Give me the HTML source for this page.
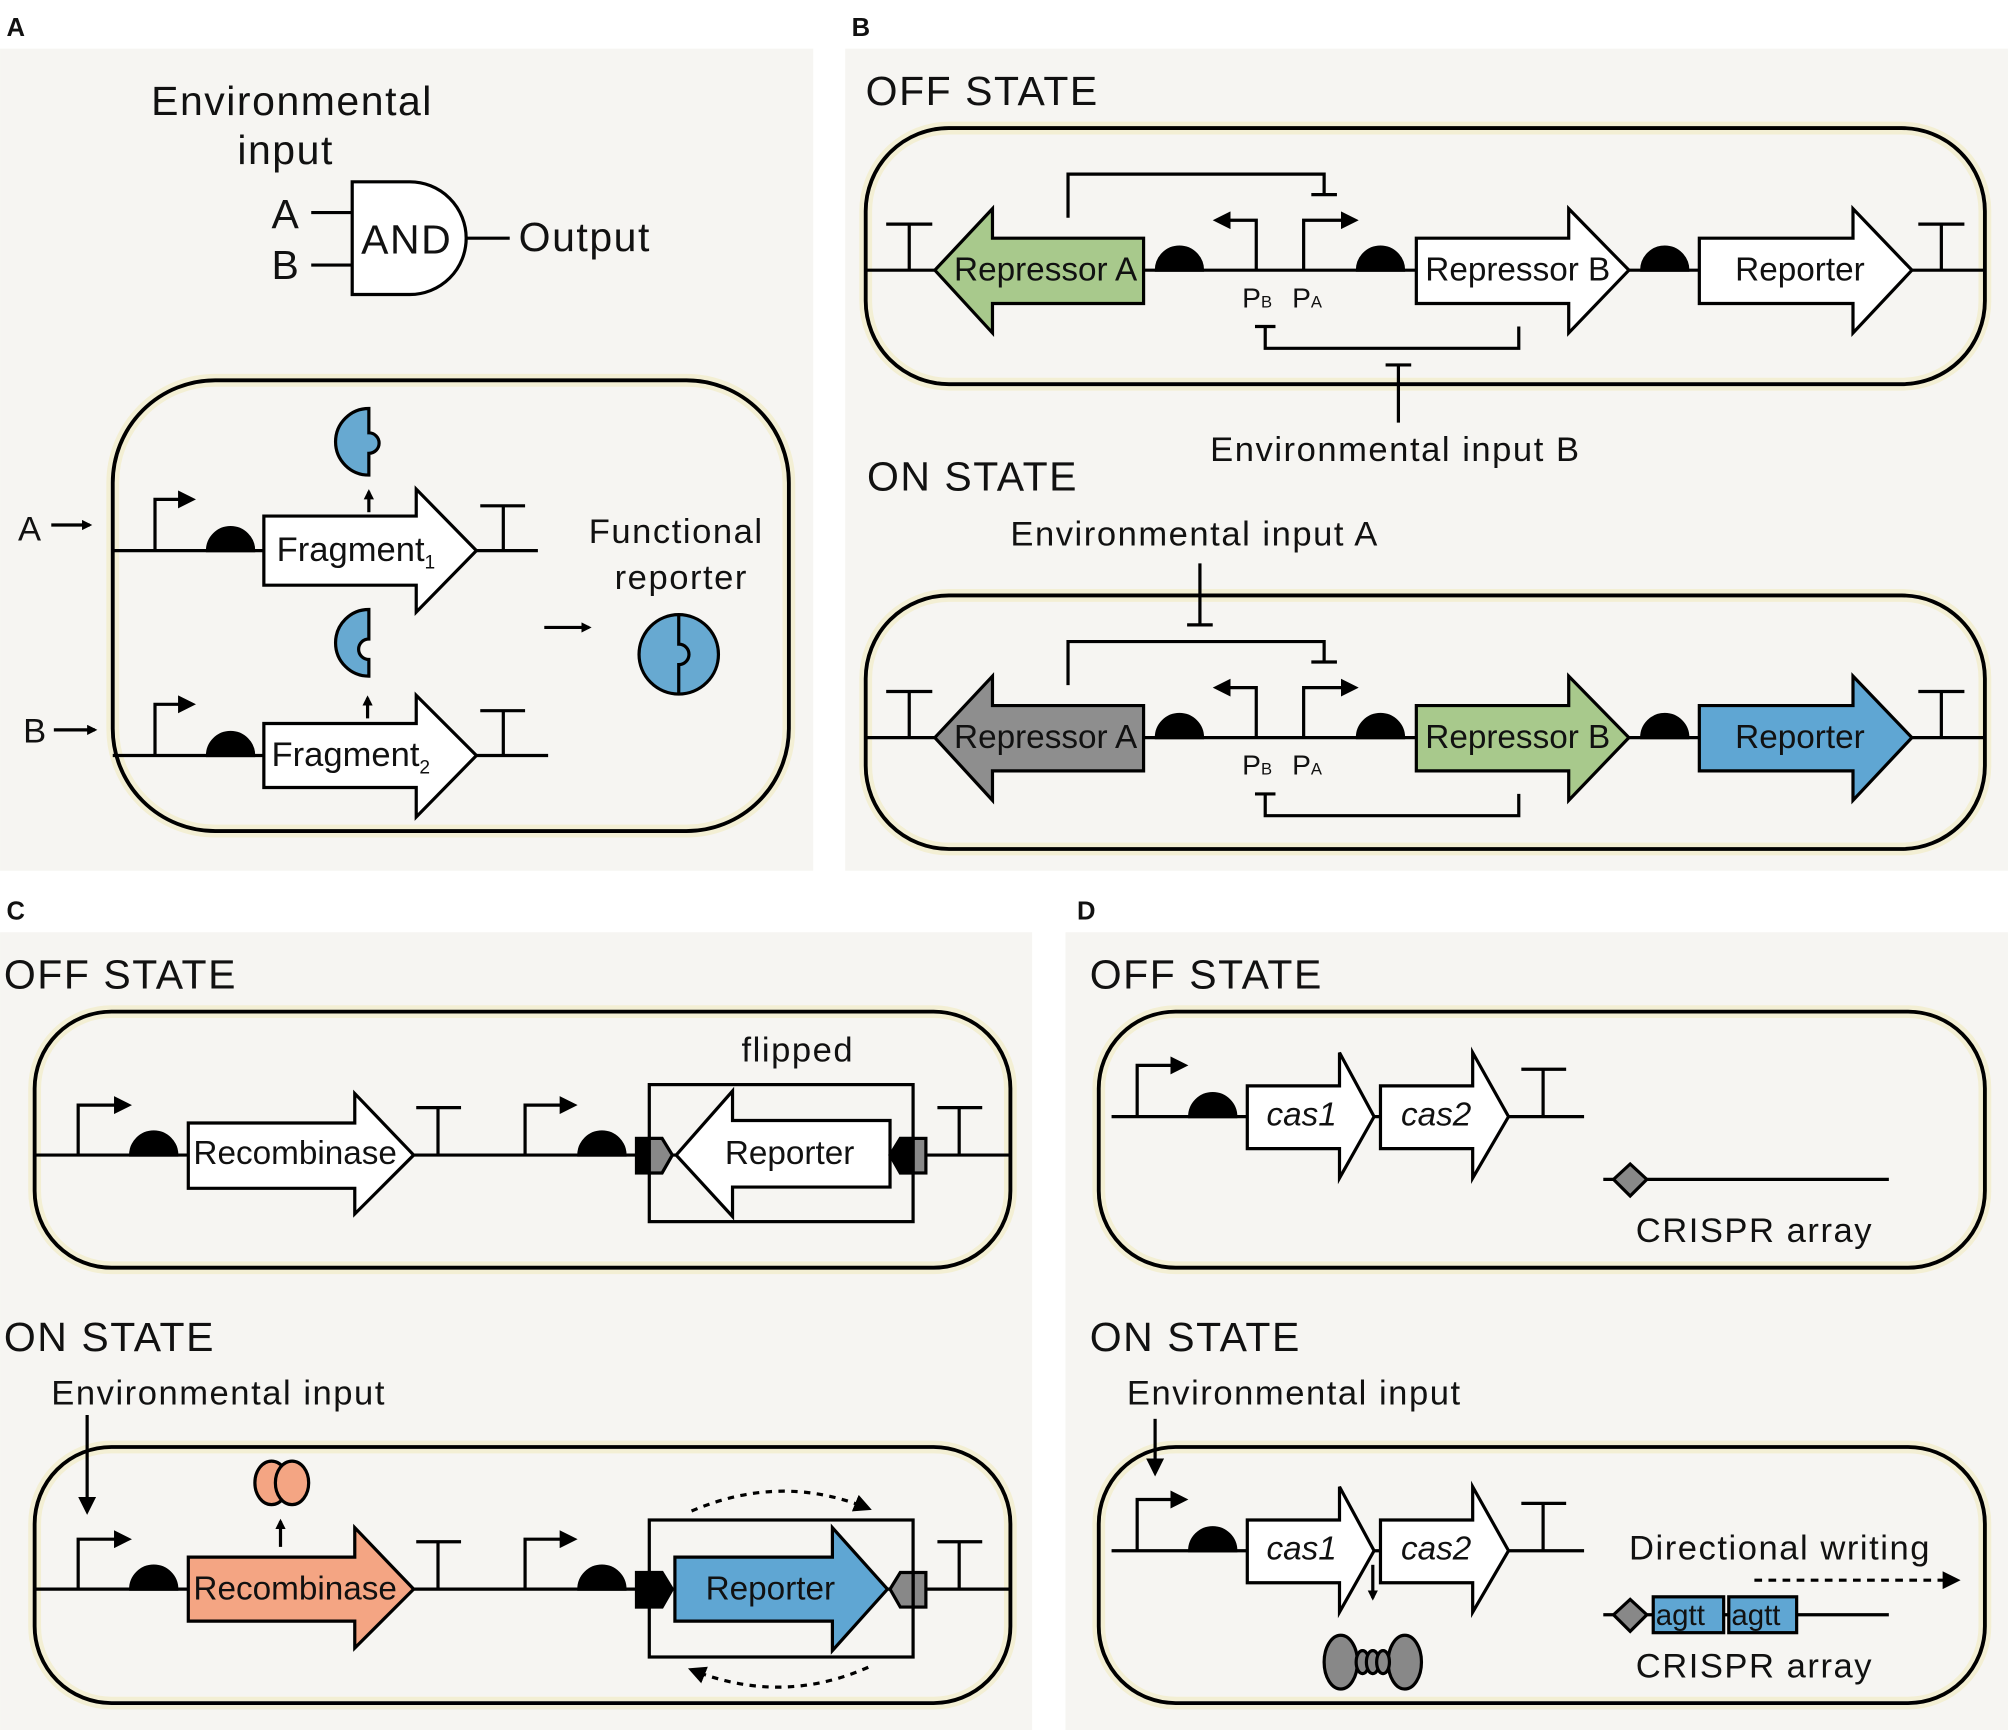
<!DOCTYPE html>
<html><head><meta charset="utf-8"><style>html,body{margin:0;padding:0;background:#fff}svg{display:block}text{font-family:"Liberation Sans","DejaVu Sans",sans-serif;fill:#111}.w{letter-spacing:1.2px}</style></head><body>
<svg width="2008" height="1730" viewBox="0 0 1568 1351" xmlns="http://www.w3.org/2000/svg">
<defs>
<marker id="ah" markerWidth="8" markerHeight="8" refX="6" refY="4" orient="auto" markerUnits="userSpaceOnUse"><path d="M0,0 L8,4 L0,8 Z" fill="#000"/></marker>
<marker id="ahb" markerWidth="14" markerHeight="14" refX="11" refY="7" orient="auto" markerUnits="userSpaceOnUse"><path d="M0,0 L14,7 L0,14 Z" fill="#000"/></marker>
</defs>
<rect width="1568" height="1351" fill="#fff"/>
<rect x="0" y="38" width="635" height="642" fill="#f6f5f2"/>
<rect x="660" y="38" width="908" height="642" fill="#f6f5f2"/>
<rect x="0" y="728" width="806" height="623" fill="#f6f5f2"/>
<rect x="832" y="728" width="736" height="623" fill="#f6f5f2"/>
<g font-weight="bold" font-size="20"><text x="5" y="28">A</text><text x="665" y="28">B</text><text x="5" y="718">C</text><text x="841" y="718">D</text></g>

<g fill="none" stroke="#f3efd4" stroke-width="10">
<rect x="88" y="297" width="528" height="352" rx="80"/>
<rect x="676" y="100" width="874" height="200" rx="65"/>
<rect x="676" y="465" width="874" height="198" rx="65"/>
<rect x="27" y="790" width="762" height="200" rx="60"/>
<rect x="27" y="1130" width="762" height="200" rx="60"/>
<rect x="858" y="790" width="692" height="200" rx="60"/>
<rect x="858" y="1130" width="692" height="200" rx="60"/>
</g>
<g fill="none" stroke="#000" stroke-width="3">
<rect x="88" y="297" width="528" height="352" rx="80"/>
<rect x="676" y="100" width="874" height="200" rx="65"/>
<rect x="676" y="465" width="874" height="198" rx="65"/>
<rect x="27" y="790" width="762" height="200" rx="60"/>
<rect x="27" y="1130" width="762" height="200" rx="60"/>
<rect x="858" y="790" width="692" height="200" rx="60"/>
<rect x="858" y="1130" width="692" height="200" rx="60"/>
</g>

<!-- Panel A -->
<g fill="none" stroke="#000" stroke-width="2.5">
<path d="M275,142 L320,142 A44,44 0 0 1 320,230 L275,230 Z" fill="#fff"/>
<path d="M243,166 H275 M243,207 H275 M364,186 H398"/>
<path d="M88,430 H420"/><path d="M121,430 V390 H150" marker-end="url(#ahb)"/>
<path d="M88,590 H428"/><path d="M121,590 V550 H150" marker-end="url(#ahb)"/>
<path d="M393,430 V395 M375,395 H410 M393,590 V555 M375,555 H410"/>
<path d="M288,400 V384" marker-end="url(#ah)"/>
<path d="M287,561 V545" marker-end="url(#ah)"/>
<path d="M425,490 H460" marker-end="url(#ah)"/>
<path d="M40,410 H70" marker-end="url(#ah)"/>
<path d="M42,570 H74" marker-end="url(#ah)"/>
</g>
<g font-size="32" class="w"><text x="228" y="90" text-anchor="middle">Environmental</text><text x="223" y="128" text-anchor="middle">input</text>
<text x="212" y="178">A</text><text x="212" y="218">B</text><text x="282" y="198">AND</text><text x="405" y="196">Output</text></g>
<g stroke="#000" stroke-width="2.5">
<path d="M162,430 A18,18 0 0 1 198,430 Z" fill="#000"/>
<path d="M162,590 A18,18 0 0 1 198,590 Z" fill="#000"/>
<path d="M206,403 H325 V382 L372,430 L325,478 V457 H206 Z" fill="#fff"/>
<path d="M206,565 H325 V543 L372,590 L325,638 V615 H206 Z" fill="#fff"/>
<path d="M288,319 A26,26 0 0 0 288,371 V354 A8,8 0 0 0 288,338 Z" fill="#67a9d1"/>
<path d="M288,476 A26,26 0 0 0 288,528 V515 A8,8 0 0 1 288,499 Z" fill="#67a9d1"/>
<circle cx="530" cy="511" r="31" fill="#67a9d1"/>
<path d="M530,480 V503 A8,8 0 0 1 530,519 V542" fill="none"/>
</g>
<g font-size="27"><text x="216" y="438">Fragment<tspan font-size="15" dy="6">1</tspan></text><text x="212" y="598">Fragment<tspan font-size="15" dy="6">2</tspan></text>
<text x="14" y="422">A</text><text x="18" y="580">B</text>
<text x="528" y="424" text-anchor="middle" class="w">Functional</text><text x="532" y="460" text-anchor="middle" class="w">reporter</text></g>

<!-- Panel B -->
<g font-size="32" class="w"><text x="676" y="82">OFF STATE</text><text x="677" y="383">ON STATE</text></g>
<g font-size="27" class="w"><text x="945" y="360">Environmental input B</text><text x="789" y="426">Environmental input A</text></g>
<g stroke="#000" stroke-width="2.5" fill="none">
<path d="M676,211 H1550 M710,211 V175 M692,175 H728 M1516,211 V175 M1498,175 H1534"/>
<path d="M981,211 V172 H950" marker-end="url(#ahb)"/><path d="M1018,211 V172 H1058" marker-end="url(#ahb)"/>
<path d="M834,170 V136 H1034 V152 M1024,152 H1044"/>
<path d="M1186,255 V272 H988 V255 M980,255 H996"/>
<path d="M1092,330 V285 M1082,285 H1102"/>
<path d="M676,576 H1550 M710,576 V540 M692,540 H728 M1516,576 V540 M1498,540 H1534"/>
<path d="M981,576 V537 H950" marker-end="url(#ahb)"/><path d="M1018,576 V537 H1058" marker-end="url(#ahb)"/>
<path d="M834,535 V501 H1034 V517 M1024,517 H1044"/>
<path d="M1186,620 V637 H988 V620 M980,620 H996"/>
<path d="M937,440 V488 M927,488 H947"/>
</g>
<g stroke="#000" stroke-width="2.5">
<path d="M903,211 A18,18 0 0 1 939,211 Z M1060,211 A18,18 0 0 1 1096,211 Z M1282,211 A18,18 0 0 1 1318,211 Z" fill="#000"/>
<path d="M903,576 A18,18 0 0 1 939,576 Z M1060,576 A18,18 0 0 1 1096,576 Z M1282,576 A18,18 0 0 1 1318,576 Z" fill="#000"/>
<path d="M893,186 H775 V163 L730,211 L775,260 V237 H893 Z" fill="#a8c98c"/>
<path d="M1106,186 H1225 V163 L1272,211 L1225,260 V237 H1106 Z" fill="#fff"/>
<path d="M1327,186 H1447 V163 L1493,211 L1447,260 V237 H1327 Z" fill="#fff"/>
<path d="M893,551 H775 V528 L730,576 L775,625 V602 H893 Z" fill="#8e8e8e"/>
<path d="M1106,551 H1225 V528 L1272,576 L1225,625 V602 H1106 Z" fill="#a8c98c"/>
<path d="M1327,551 H1447 V528 L1493,576 L1447,625 V602 H1327 Z" fill="#5fa6d3"/>
</g>
<g font-size="26"><text x="745" y="219">Repressor A</text><text x="1113" y="219">Repressor B</text><text x="1355" y="219">Reporter</text>
<text x="745" y="584">Repressor A</text><text x="1113" y="584">Repressor B</text><text x="1355" y="584">Reporter</text></g>
<g font-size="22"><text x="970" y="240">P<tspan font-size="13">B</tspan></text><text x="1009" y="240">P<tspan font-size="13">A</tspan></text>
<text x="970" y="605">P<tspan font-size="13">B</tspan></text><text x="1009" y="605">P<tspan font-size="13">A</tspan></text></g>

<!-- Panel C -->
<g font-size="32" class="w"><text x="3" y="772">OFF STATE</text><text x="3" y="1055">ON STATE</text></g>
<g font-size="27" class="w"><text x="623" y="829" text-anchor="middle">flipped</text><text x="40" y="1097">Environmental input</text></g>
<g stroke="#000" stroke-width="2.5" fill="none">
<path d="M27,902 H789 M342,902 V865 M325,865 H360 M749,902 V865 M732,865 H767"/>
<path d="M61,902 V863 H100" marker-end="url(#ahb)"/><path d="M410,902 V863 H448" marker-end="url(#ahb)"/>
<rect x="507" y="847" width="206" height="107"/>
<path d="M27,1241 H789 M342,1241 V1204 M325,1204 H360 M749,1241 V1204 M732,1204 H767"/>
<path d="M61,1241 V1202 H100" marker-end="url(#ahb)"/><path d="M410,1241 V1202 H448" marker-end="url(#ahb)"/>
<rect x="507" y="1187" width="206" height="107"/>
<path d="M68,1105 V1180" marker-end="url(#ahb)"/>
<path d="M219,1208 V1188" marker-end="url(#ah)"/>
<path d="M540,1180 Q610,1150 678,1178" stroke-dasharray="5,5" marker-end="url(#ahb)"/>
<path d="M678,1302 Q610,1332 540,1304" stroke-dasharray="5,5" marker-end="url(#ahb)"/>
</g>
<g stroke="#000" stroke-width="2.5">
<path d="M102,902 A18,18 0 0 1 138,902 Z M452,902 A18,18 0 0 1 488,902 Z M102,1241 A18,18 0 0 1 138,1241 Z M452,1241 A18,18 0 0 1 488,1241 Z" fill="#000"/>
<path d="M147,877 H277 V854 L323,902 L277,948 V928 H147 Z" fill="#fff"/>
<path d="M147,1216 H277 V1193 L323,1241 L277,1287 V1266 H147 Z" fill="#f4a583"/>
<path d="M695,875 H572 V852 L528,902 L572,950 V927 H695 Z" fill="#fff"/>
<path d="M527,1216 H650 V1193 L693,1241 L650,1289 V1266 H527 Z" fill="#5fa6d3"/>
<rect x="497" y="889" width="10" height="27" fill="#000"/><path d="M507,889 H517 L525,902 L517,916 H507 Z" fill="#888"/>
<rect x="713" y="889" width="10" height="27" fill="#888"/><path d="M713,889 H703 L695,902 L703,916 H713 Z" fill="#000"/>
<rect x="497" y="1228" width="10" height="27" fill="#000"/><path d="M507,1228 H517 L525,1241 L517,1255 H507 Z" fill="#000"/>
<rect x="713" y="1228" width="10" height="27" fill="#888"/><path d="M713,1228 H703 L695,1241 L703,1255 H713 Z" fill="#888"/>
<ellipse cx="212" cy="1158" rx="13" ry="17" fill="#f4a583"/><ellipse cx="228" cy="1158" rx="13" ry="17" fill="#f4a583"/>
</g>
<g font-size="26"><text x="151" y="909">Recombinase</text><text x="566" y="909">Reporter</text>
<text x="151" y="1249">Recombinase</text><text x="551" y="1249">Reporter</text></g>

<!-- Panel D -->
<g font-size="32" class="w"><text x="851" y="772">OFF STATE</text><text x="851" y="1055">ON STATE</text></g>
<g font-size="27" class="w"><text x="1370" y="970" text-anchor="middle">CRISPR array</text><text x="1370" y="1310" text-anchor="middle">CRISPR array</text>
<text x="880" y="1097">Environmental input</text><text x="1390" y="1218" text-anchor="middle">Directional writing</text></g>
<g stroke="#000" stroke-width="2.5" fill="none">
<path d="M868,872 H1237 M1205,872 V835 M1188,835 H1223"/>
<path d="M888,872 V832 H925" marker-end="url(#ahb)"/>
<path d="M1252,921 H1475"/>
<path d="M868,1211 H1237 M1205,1211 V1174 M1188,1174 H1223"/>
<path d="M888,1211 V1171 H925" marker-end="url(#ahb)"/>
<path d="M1252,1261 H1475"/>
<path d="M902,1108 V1150" marker-end="url(#ahb)"/>
<path d="M1072,1222 V1248" marker-end="url(#ah)"/>
<path d="M1370,1234 H1528" stroke-dasharray="6,5" marker-end="url(#ahb)"/>
</g>
<g stroke="#000" stroke-width="2.5">
<path d="M929,872 A18,18 0 0 1 965,872 Z M929,1211 A18,18 0 0 1 965,1211 Z" fill="#000"/>
<path d="M974,848 H1046 V822 L1073,872 L1046,920 V897 H974 Z" fill="#fff"/>
<path d="M1078,848 H1150 V822 L1178,872 L1150,920 V897 H1078 Z" fill="#fff"/>
<path d="M974,1187 H1046 V1161 L1073,1211 L1046,1259 V1236 H974 Z" fill="#fff"/>
<path d="M1078,1187 H1150 V1161 L1178,1211 L1150,1259 V1236 H1078 Z" fill="#fff"/>
<path d="M1273,909 L1286,921 L1273,934 L1260,921 Z" fill="#888"/>
<path d="M1273,1249 L1286,1261 L1273,1274 L1260,1261 Z" fill="#888"/>
<rect x="1291" y="1247" width="55" height="28" fill="#5fa6d3"/><rect x="1350" y="1247" width="53" height="28" fill="#5fa6d3"/>
<ellipse cx="1047" cy="1298" rx="13" ry="21" fill="#888"/><ellipse cx="1097" cy="1298" rx="13" ry="21" fill="#888"/>
<ellipse cx="1064" cy="1298" rx="5" ry="9" fill="#888"/><ellipse cx="1072" cy="1298" rx="5" ry="9" fill="#888"/><ellipse cx="1080" cy="1298" rx="5" ry="9" fill="#888"/>
</g>
<g font-size="26" font-style="italic"><text x="989" y="879">cas1</text><text x="1094" y="879">cas2</text><text x="989" y="1218">cas1</text><text x="1094" y="1218">cas2</text></g>
<g font-size="23"><text x="1293" y="1269">agtt</text><text x="1352" y="1269">agtt</text></g>
</svg>
</body></html>
